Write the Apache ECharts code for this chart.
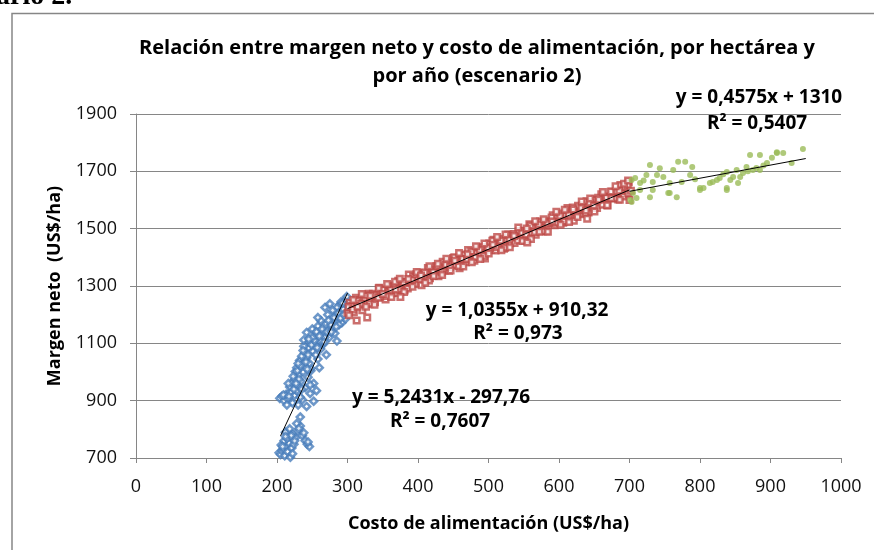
<!DOCTYPE html>
<html>
<head>
<meta charset="utf-8">
<script src="https://cdn.jsdelivr.net/npm/echarts@6/dist/echarts.min.js"></script>
<style>
  html, body { margin: 0; padding: 0; background: #fff; }
  #chart { width: 874px; height: 550px; }
</style>
</head>
<body>
<div id="chart"></div>
<script>
// Costo de alimentación (US$/ha) vs Margen neto (US$/ha)
const bluePts = [
  [203,718],[205,712],[207,725],[209,731],[211,708],[213,740],[215,722],[217,752],[219,703],[221,735],
  [206,745],[210,760],[214,768],[222,715],[224,748],
  [212,790],[218,802],[222,782],[226,770],[230,795],[233,812],[236,778],[240,760],[243,748],[246,740],
  [228,820],[238,788],[220,778],[233,843],
  [204,908],[207,915],[210,900],[213,922],[216,905],[219,930],[222,892],[225,918],[230,885],[236,903],
  [242,880],[247,925],[252,898],[256,935],[228,935],[233,912],
  [218,948],[221,962],[225,975],[228,955],[231,990],[234,968],[237,1000],[240,945],[244,982],[248,1004],
  [252,960],[226,1002],[235,940],
  [228,1015],[232,1040],[236,1028],[239,1065],[242,1050],[245,1085],[248,1012],[251,1072],[254,1095],
  [258,1045],[262,1080],[266,1098],[270,1060],[238,1090],[246,1030],
  [238,1112],[242,1138],[246,1105],[250,1150],[254,1125],[258,1160],[262,1108],[266,1142],[270,1168],
  [274,1120],[278,1155],[282,1135],[285,1108],[256,1140],[268,1120],
  [280,1180],[283,1210],[286,1195],[289,1235],[292,1172],[294,1220],[296,1250],[298,1200],[299,1263],
  [285,1225],[291,1245],[297,1185],[300,1230],[288,1165],
  [268,1225],[275,1238],[279,1215],[272,1200],
  [216,960],[223,985],[229,1005],[233,1022],[241,1035],[244,1060],[249,1095],[253,1110],[257,1085],
  [260,1125],[264,1150],[267,1105],[271,1140],[276,1165],[281,1190],[284,1158],[287,1205],[290,1188],
  [293,1240],[295,1200],[262,1180],[258,1190],[250,1120],[235,1055],[231,975],[224,940],[214,885],
  [209,920],[247,955],[243,1010],[237,1075],[255,1060],[260,1015],[245,1115],[273,1180],[277,1140],
  [230,1030],[227,960],[217,915],[212,775],[208,740],[225,760],[231,803],[244,756]
];

const redPts = [
  [300,1207],[303,1242],[306,1230],[309,1208],[312,1259],[315,1230],[318,1251],[321,1215],[324,1253],[327,1237],
  [330,1273],[333,1252],[336,1273],[339,1243],[342,1268],[345,1294],[348,1261],[351,1285],[354,1253],[357,1282],
  [360,1302],[363,1275],[366,1297],[369,1276],[372,1318],[375,1294],[378,1314],[381,1284],[384,1314],[387,1340],
  [390,1306],[393,1333],[396,1307],[399,1326],[402,1346],[405,1303],[408,1342],[411,1331],[414,1363],[417,1327],
  [420,1356],[423,1346],[426,1369],[429,1334],[432,1364],[435,1385],[438,1354],[441,1381],[444,1353],[447,1374],
  [450,1398],[453,1372],[456,1394],[459,1362],[462,1393],[465,1409],[468,1383],[471,1426],[474,1397],[477,1414],
  [480,1388],[483,1418],[486,1434],[489,1407],[492,1435],[495,1396],[498,1429],[501,1448],[504,1426],[507,1461],
  [510,1424],[513,1450],[516,1442],[519,1465],[522,1430],[525,1460],[528,1480],[531,1449],[534,1476],[537,1450],
  [540,1471],[543,1492],[546,1468],[549,1493],[552,1458],[555,1492],[558,1515],[561,1486],[564,1505],[567,1479],
  [570,1504],[573,1525],[576,1497],[579,1526],[582,1491],[585,1524],[588,1517],[591,1547],[594,1512],[597,1538],
  [600,1524],[603,1553],[606,1521],[609,1546],[612,1572],[615,1538],[618,1563],[621,1528],[624,1559],[627,1580],
  [630,1550],[633,1581],[636,1565],[639,1596],[642,1556],[645,1587],[648,1574],[651,1602],[654,1572],[657,1596],
  [660,1620],[663,1587],[666,1612],[669,1581],[672,1610],[675,1629],[678,1606],[681,1629],[684,1602],[687,1652],
  [690,1626],[693,1645],[696,1620],[699,1662],
  [301.5,1227],[307.5,1218],[313.5,1249],[319.5,1238],[325.5,1267],[331.5,1238],[337.5,1268],[343.5,1259],
  [349.5,1288],[355.5,1265],[361.5,1287],[367.5,1315],[373.5,1288],[379.5,1313],[385.5,1291],[391.5,1322],
  [397.5,1341],[403.5,1324],[409.5,1347],[415.5,1319],[421.5,1349],[427.5,1370],[433.5,1348],[439.5,1374],
  [445.5,1366],[451.5,1400],[457.5,1370],[463.5,1395],[469.5,1394],[475.5,1420],[481.5,1400],[487.5,1426],
  [493.5,1405],[499.5,1434],[505.5,1458],[511.5,1435],[517.5,1458],[523.5,1433],[529.5,1463],[535.5,1481],
  [541.5,1459],[547.5,1486],[553.5,1480],[559.5,1511],[565.5,1488],[571.5,1515],[577.5,1491],[583.5,1520],
  [589.5,1539],[595.5,1521],[601.5,1544],[607.5,1525],[613.5,1549],[619.5,1574],[625.5,1549],[631.5,1572],
  [637.5,1554],[643.5,1590],[649.5,1580],[655.5,1608],[661.5,1583],[667.5,1608],[673.5,1630],[679.5,1606],
  [685.5,1632],[691.5,1612],[697.5,1652],
  [302.25,1198],[308.25,1251],[314.25,1228],[320.25,1272],[326.25,1228],[332.25,1266],[338.25,1235],[344.25,1292],
  [350.25,1272],[356.25,1307],[362.25,1262],[368.25,1288],[374.25,1325],[380.25,1279],[386.25,1324],[392.25,1297],
  [398.25,1349],[404.25,1337],[410.25,1311],[416.25,1369],[422.25,1335],[428.25,1378],[434.25,1338],[440.25,1395],
  [446.25,1354],[452.25,1388],[458.25,1415],[464.25,1368],[470.25,1411],[476.25,1383],[482.25,1439],[488.25,1394],
  [494.25,1448],[500.25,1413],[506.25,1444],[512.25,1471],[518.25,1425],[524.25,1480],[530.25,1435],[536.25,1474],
  [542.25,1504],[548.25,1457],[554.25,1501],[560.25,1464],[566.25,1526],[572.25,1489],[578.25,1533],[584.25,1489],
  [590.25,1525],[596.25,1559],[602.25,1514],[608.25,1566],[614.25,1523],[620.25,1567],[626.25,1541],[632.25,1595],
  [638.25,1563],[644.25,1605],[650.25,1560],[656.25,1601],[662.25,1628],[668.25,1582],[674.25,1606],[680.25,1648],
  [686.25,1601],[692.25,1657],[698.25,1623],
  [328,1190],[313,1180],[375,1262],[640,1535],[555,1452],[700,1600],[702,1632],[698,1668]
];

const greenPts = [
  [703,1670],[708,1677],[715,1659],[724,1687],[729,1722],[733,1663],[739,1687],[743,1711],[757,1659],[762,1705],
  [769,1733],[779,1733],[786,1687],[789,1715],[774,1663],[767,1610],[757,1624],[733,1635],[729,1610],[715,1635],
  [705,1624],[703,1593],[710,1607],[800,1635],[805,1642],[814,1659],[824,1670],[828,1677],[838,1698],[843,1670],
  [847,1680],[852,1705],[854,1659],[838,1635],[861,1694],[866,1715],[871,1757],[875,1705],[885,1757],[885,1705],
  [895,1729],[902,1747],[909,1764],[918,1764],[930,1729],[946,1778],[857,1680],[880,1712],[818,1663],[909,1767],
  [800,1642],[838,1642],[755,1624],[701,1600],[720,1668],[748,1680],[793,1672],[833,1690],[868,1700],[890,1720]
];

// líneas de tendencia: [pendiente, intercepto, x inicial, x final]
const blueTrend = [5.2431, -297.76, 205, 300];
const redTrend = [1.0355, 910.32, 300, 700];
const greenTrend = [0.4575, 1310, 700, 950];

const xTicks = { min: 0, max: 1000, interval: 100 };
const yTicks = { min: 700, max: 1900, interval: 200 };

function trendLine(t) {
  return [[t[2], t[0] * t[2] + t[1]], [t[3], t[0] * t[3] + t[1]]];
}

const chart = echarts.init(document.getElementById('chart'));
const gray = '#868686';
const labelFont = '"Open Sans", "Liberation Sans", sans-serif';

function eq(text, x, y) {
  return { type: 'text', x: x, y: y, z: 20,
    style: { text: text, fontFamily: labelFont, fontWeight: 'bold', fontSize: 19, fill: '#000',
      textAlign: 'center', textVerticalAlign: 'middle' } };
}

const option = {
  backgroundColor: '#fff',
  animation: false,
  grid: { left: 136, right: 33, top: 114, bottom: 92 },
  xAxis: {
    type: 'value',
    min: xTicks.min, max: xTicks.max, interval: xTicks.interval,
    name: 'Costo de alimentación (US$/ha)',
    nameLocation: 'middle', nameGap: 57,
    nameTextStyle: { fontFamily: labelFont, fontWeight: 'bold', fontSize: 18, color: '#000' },
    axisLine: { show: true, lineStyle: { color: gray, width: 1 } },
    axisTick: { show: true, length: 5, lineStyle: { color: gray } },
    axisLabel: { fontFamily: labelFont, fontSize: 18, color: '#111', margin: 20, formatter: v => String(v) },
    splitLine: { show: false }
  },
  yAxis: {
    type: 'value',
    min: yTicks.min, max: yTicks.max, interval: yTicks.interval,
    name: 'Margen neto  (US$/ha)',
    nameLocation: 'middle', nameGap: 72, nameRotate: 90,
    nameTextStyle: { fontFamily: labelFont, fontWeight: 'bold', fontSize: 18, color: '#000' },
    axisLine: { show: true, lineStyle: { color: gray, width: 1 } },
    axisTick: { show: true, length: 6, lineStyle: { color: gray } },
    axisLabel: { fontFamily: labelFont, fontSize: 18, color: '#111', margin: 19, formatter: v => String(v) },
    splitLine: { show: true, lineStyle: { color: gray, width: 1 } }
  },
  graphic: [
    { type: 'rect', shape: { x: 12, y: 13.5, width: 900, height: 600 },
      style: { fill: 'none', stroke: gray, lineWidth: 1.5 }, z: -10 },
    { type: 'text', x: -4, y: -17,
      style: { text: 'ario 2.', fontFamily: '"Liberation Serif", serif', fontWeight: 'bold', fontSize: 28, fill: '#000' } },
    { type: 'text', x: 477, y: 48,
      style: { text: 'Relación entre margen neto y costo de alimentación, por hectárea y',
        fontFamily: labelFont, fontWeight: 'bold', fontSize: 20, fill: '#000', textAlign: 'center', textVerticalAlign: 'middle' } },
    { type: 'text', x: 477, y: 76,
      style: { text: 'por año (escenario 2)',
        fontFamily: labelFont, fontWeight: 'bold', fontSize: 20, fill: '#000', textAlign: 'center', textVerticalAlign: 'middle' } },
    eq('y = 0,4575x + 1310', 759, 98),
    eq('R² = 0,5407', 757, 124),
    eq('y = 1,0355x + 910,32', 517, 311),
    eq('R² = 0,973', 518, 334),
    eq('y = 5,2431x - 297,76', 441, 398),
    eq('R² = 0,7607', 440, 422)
  ],
  series: [
    { type: 'scatter', data: bluePts, symbol: 'diamond', symbolSize: 7,
      itemStyle: { color: '#fff', borderColor: '#4A7EBB', borderWidth: 2.5 } },
    { type: 'scatter', data: redPts, symbol: 'rect', symbolSize: 5.5,
      itemStyle: { color: '#fff', borderColor: '#BE4B48', borderWidth: 2.5 } },
    { type: 'scatter', data: greenPts, symbol: 'circle', symbolSize: 6,
      itemStyle: { color: '#9BBB59' } },
    { type: 'line', data: trendLine(blueTrend), showSymbol: false, symbol: 'none',
      lineStyle: { color: '#000', width: 1 }, z: 5 },
    { type: 'line', data: trendLine(redTrend), showSymbol: false, symbol: 'none',
      lineStyle: { color: '#000', width: 1 }, z: 5 },
    { type: 'line', data: trendLine(greenTrend), showSymbol: false, symbol: 'none',
      lineStyle: { color: '#000', width: 1 }, z: 5 }
  ]
};

chart.setOption(option);
</script>
</body>
</html>
